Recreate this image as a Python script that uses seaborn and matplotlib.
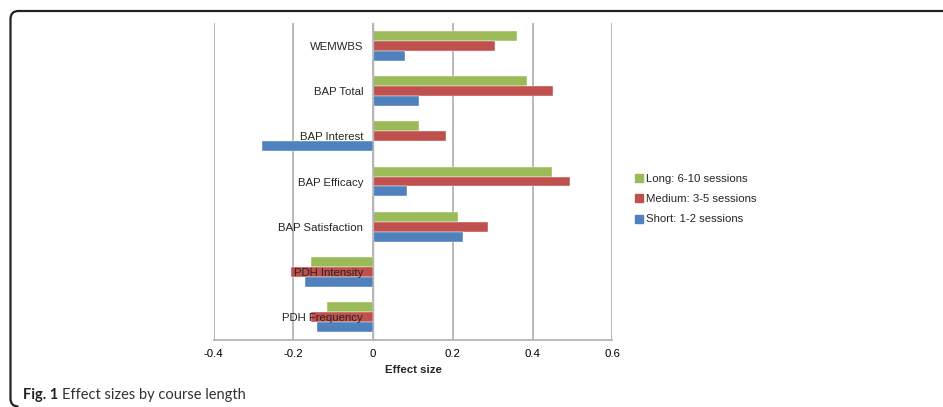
import matplotlib
matplotlib.use("Agg")
import matplotlib.pyplot as plt
import seaborn as sns
import pandas as pd
from matplotlib.patches import PathPatch
from matplotlib.path import Path
from matplotlib.lines import Line2D

measures = ["WEMWBS", "BAP Total", "BAP Interest", "BAP Efficacy",
            "BAP Satisfaction", "PDH Intensity", "PDH Frequency"]
series = ["Long: 6-10 sessions", "Medium: 3-5 sessions", "Short: 1-2 sessions"]
long_vals = [0.362, 0.387, 0.116, 0.449, 0.212, -0.157, -0.115]
medium_vals = [0.305, 0.452, 0.182, 0.494, 0.287, -0.206, -0.157]
short_vals = [0.080, 0.115, -0.279, 0.085, 0.226, -0.172, -0.140]
colors = ["#9BBB59", "#C0504D", "#4F81BD"]
xticks = [-0.4, -0.2, 0, 0.2, 0.4, 0.6]
xtick_labels = ["-0.4", "-0.2", "0", "0.2", "0.4", "0.6"]

rows = []
for s, vals in zip(series, [long_vals, medium_vals, short_vals]):
    for m, v in zip(measures, vals):
        rows.append({"measure": m, "series": s, "value": v})
df = pd.DataFrame(rows)

sns.set_style("white")
plt.rcParams["font.family"] = ["Liberation Sans", "DejaVu Sans"]

W, H = 943, 407
fig = plt.figure(figsize=(W / 100, H / 100), dpi=100)
ax = fig.add_axes([213.7 / W, (H - 340) / H, 398.6 / W, 317 / H])

sns.barplot(data=df, x="value", y="measure", hue="series", order=measures,
            hue_order=series, palette=colors, orient="h", width=0.66,
            gap=0, ax=ax, errorbar=None, saturation=1,
            edgecolor="white", linewidth=0.3, legend=False)
for p in ax.patches:
    p.set_zorder(1)

ax.set_xlim(-0.4, 0.6)
ax.set_ylim(len(measures) - 0.5, -0.5)
for xv in xticks:
    ax.axvline(xv, color="#b3b3b3", lw=1.3, zorder=0)

ax.set_xticks(xticks)
ax.set_xticklabels(xtick_labels, fontsize=8.2)
ax.set_xlabel("Effect size", fontsize=8.2, fontweight="bold", labelpad=4.5)
ax.set_ylabel("")

for side in ["top", "right", "left"]:
    ax.spines[side].set_visible(False)
ax.spines["bottom"].set_color("#b3b3b3")
ax.spines["bottom"].set_linewidth(1.3)
ax.tick_params(axis="x", length=0, pad=6.5, colors="black")

# category axis at zero
ax.spines["left"].set_visible(True)
ax.spines["left"].set_position(("data", 0))
ax.spines["left"].set_color("#b3b3b3")
ax.spines["left"].set_linewidth(1.0)
ax.set_yticks(range(len(measures)))
ax.set_yticklabels(measures, fontsize=8.2)
ax.set_yticks([i - 0.5 for i in range(len(measures) + 1)], minor=True)
ax.tick_params(axis="y", which="major", length=0, pad=7.2)
ax.tick_params(axis="y", which="minor", length=2.2, width=1.0,
               color="#b3b3b3", direction="out")
ax.yaxis.set_zorder(5)

handles = [Line2D([0], [0], marker="s", linestyle="none", markersize=5.5,
                  markerfacecolor=c, markeredgecolor=c) for c in colors]
fig.legend(handles, series, loc="upper left",
           bbox_to_anchor=(635 / W, (H - 174) / H), frameon=False,
           fontsize=8.2, handlelength=0.7, handletextpad=0.3,
           labelspacing=0.9, borderpad=0, borderaxespad=0)

# outer frame (top and left edges, rounded corners), in figure pixels
def fx(px):
    return px / W

def fy(py):
    return (H - py) / H

r = 8
left, top, bottom = 10.5, 11, 406.5
verts = [
    (fx(2000), fy(top)),
    (fx(left + r), fy(top)),
    (fx(left), fy(top)),
    (fx(left), fy(top + r)),
    (fx(left), fy(bottom - r)),
    (fx(left), fy(bottom)),
    (fx(left + r), fy(bottom)),
]
codes = [Path.MOVETO, Path.LINETO, Path.CURVE3, Path.CURVE3,
         Path.LINETO, Path.CURVE3, Path.CURVE3]
frame = PathPatch(Path(verts, codes), transform=fig.transFigure,
                  fill=False, edgecolor="#222222", linewidth=1.6)
fig.patches.append(frame)

# caption
rend = fig.canvas.get_renderer()
t1 = fig.text(23 / W, (H - 398.5) / H, "Fig. 1", fontsize=10.5,
              fontweight="bold", family=["Lato", "DejaVu Sans"], va="baseline",
              color="#222222")
bb = t1.get_window_extent(renderer=rend)
fig.text((bb.x1 + 4) / W, (H - 398.5) / H, "Effect sizes by course length",
         fontsize=10.5, family=["Lato", "DejaVu Sans"], va="baseline",
         color="#333333")

fig.savefig("out.png", dpi=100)
